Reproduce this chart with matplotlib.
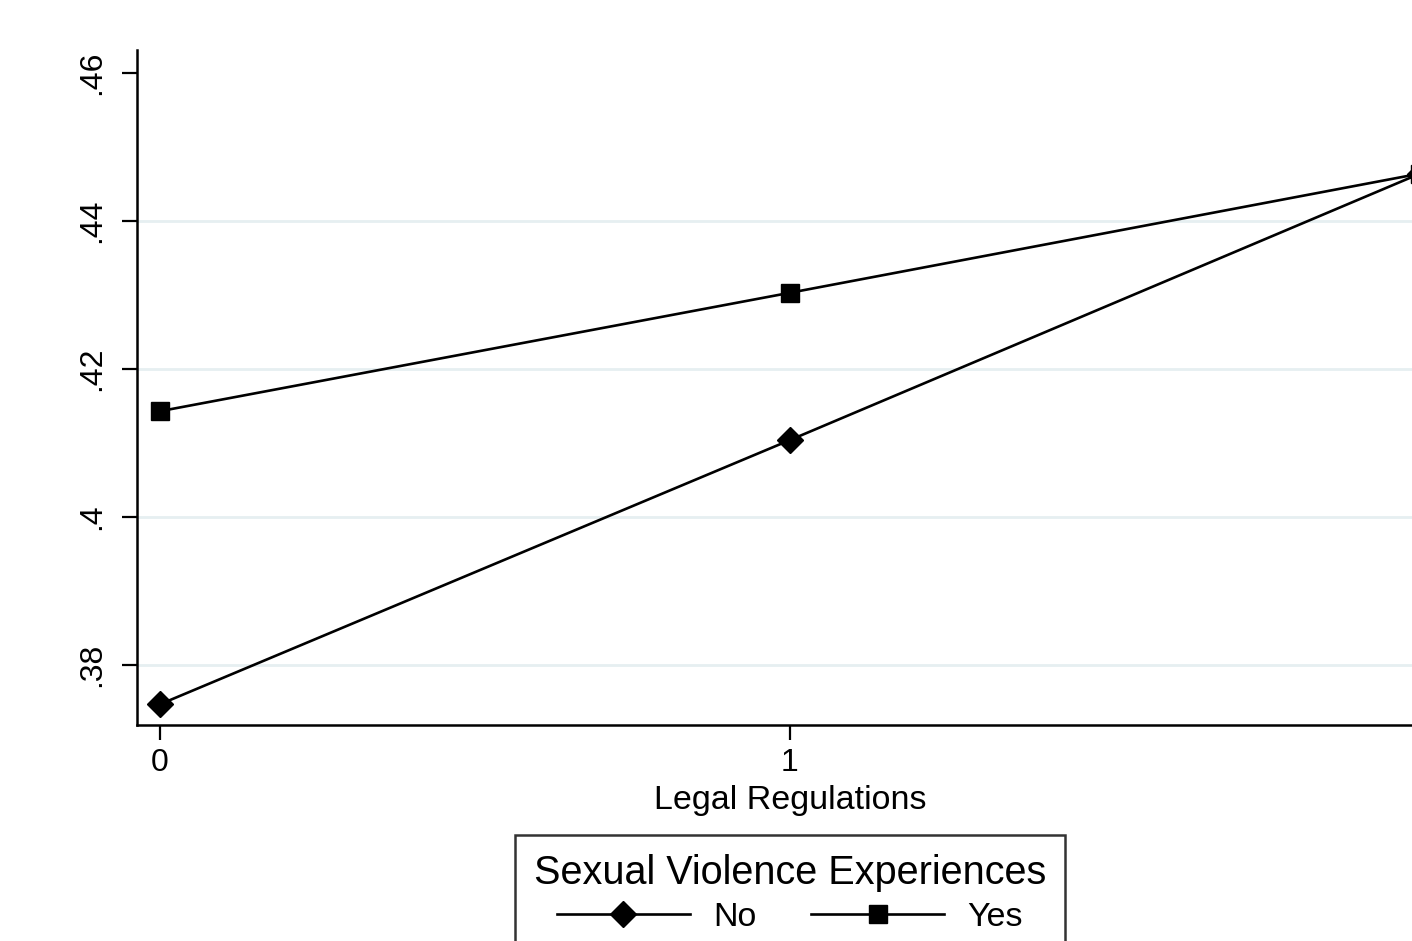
import matplotlib
matplotlib.use("Agg")
import matplotlib.pyplot as plt
from matplotlib.lines import Line2D

plt.rcParams['font.family'] = ['Liberation Sans', 'DejaVu Sans']

# Predicted margins by legal regulation level
legal_levels = [0, 1, 2]
no_violence = [0.3747, 0.4104, 0.4464]
yes_violence = [0.4143, 0.4303, 0.4464]
series_labels = ["No", "Yes"]
legend_title = "Sexual Violence Experiences"
y_ticks = [0.38, 0.40, 0.42, 0.44, 0.46]
y_tick_labels = [".38", ".4", ".42", ".44", ".46"]

W, H = 1412, 941
fig = plt.figure(figsize=(W / 100, H / 100), dpi=100)
fig.patch.set_facecolor("white")

left, right, top, bottom = 137, 1443, 50, 725
ax = fig.add_axes([left / W, 1 - bottom / H, (right - left) / W, (bottom - top) / H])

ax.plot(legal_levels, no_violence, color="black", lw=1.9, marker="D",
        ms=13, mfc="black", mec="black", clip_on=False, zorder=3)
ax.plot(legal_levels, yes_violence, color="black", lw=1.9, marker="s",
        ms=13, mfc="black", mec="black", clip_on=False, zorder=3)

ax.set_xlim(-0.0365, 2.0365)
ax.set_ylim(0.3719, 0.4631)

for yv in y_ticks[:-1]:
    ax.axhline(yv, color="#e6eff1", lw=2, zorder=1)

ax.set_xticks(legal_levels)
ax.set_xticklabels([str(v) for v in legal_levels], fontsize=23)
ax.set_yticks(y_ticks)
ax.set_yticklabels(y_tick_labels, fontsize=23, rotation=90, va="center")
ax.tick_params(axis="both", length=10.5, width=1.6, color="black")
ax.tick_params(axis="x", pad=6)
ax.tick_params(axis="y", pad=11)

for s in ("top", "right"):
    ax.spines[s].set_visible(False)
for s in ("left", "bottom"):
    ax.spines[s].set_linewidth(1.8)
    ax.spines[s].set_color("black")

ax.set_xlabel("Legal Regulations", fontsize=24.5, labelpad=5)

handles = [
    Line2D([], [], color="black", lw=1.9, marker="D", ms=13),
    Line2D([], [], color="black", lw=1.9, marker="s", ms=13),
]
leg = fig.legend(handles, series_labels, title=legend_title, ncol=2,
                 loc="upper center", bbox_to_anchor=(790 / W, 1 - 835 / H),
                 borderaxespad=0, fontsize=24.5, title_fontsize=28.5,
                 frameon=True, fancybox=False, edgecolor="black",
                 handlelength=3.9, handletextpad=0.7, columnspacing=1.6,
                 borderpad=0.55, labelspacing=0.3)
leg.get_frame().set_linewidth(1.8)

fig.savefig("out.png", dpi=100, facecolor="white")
